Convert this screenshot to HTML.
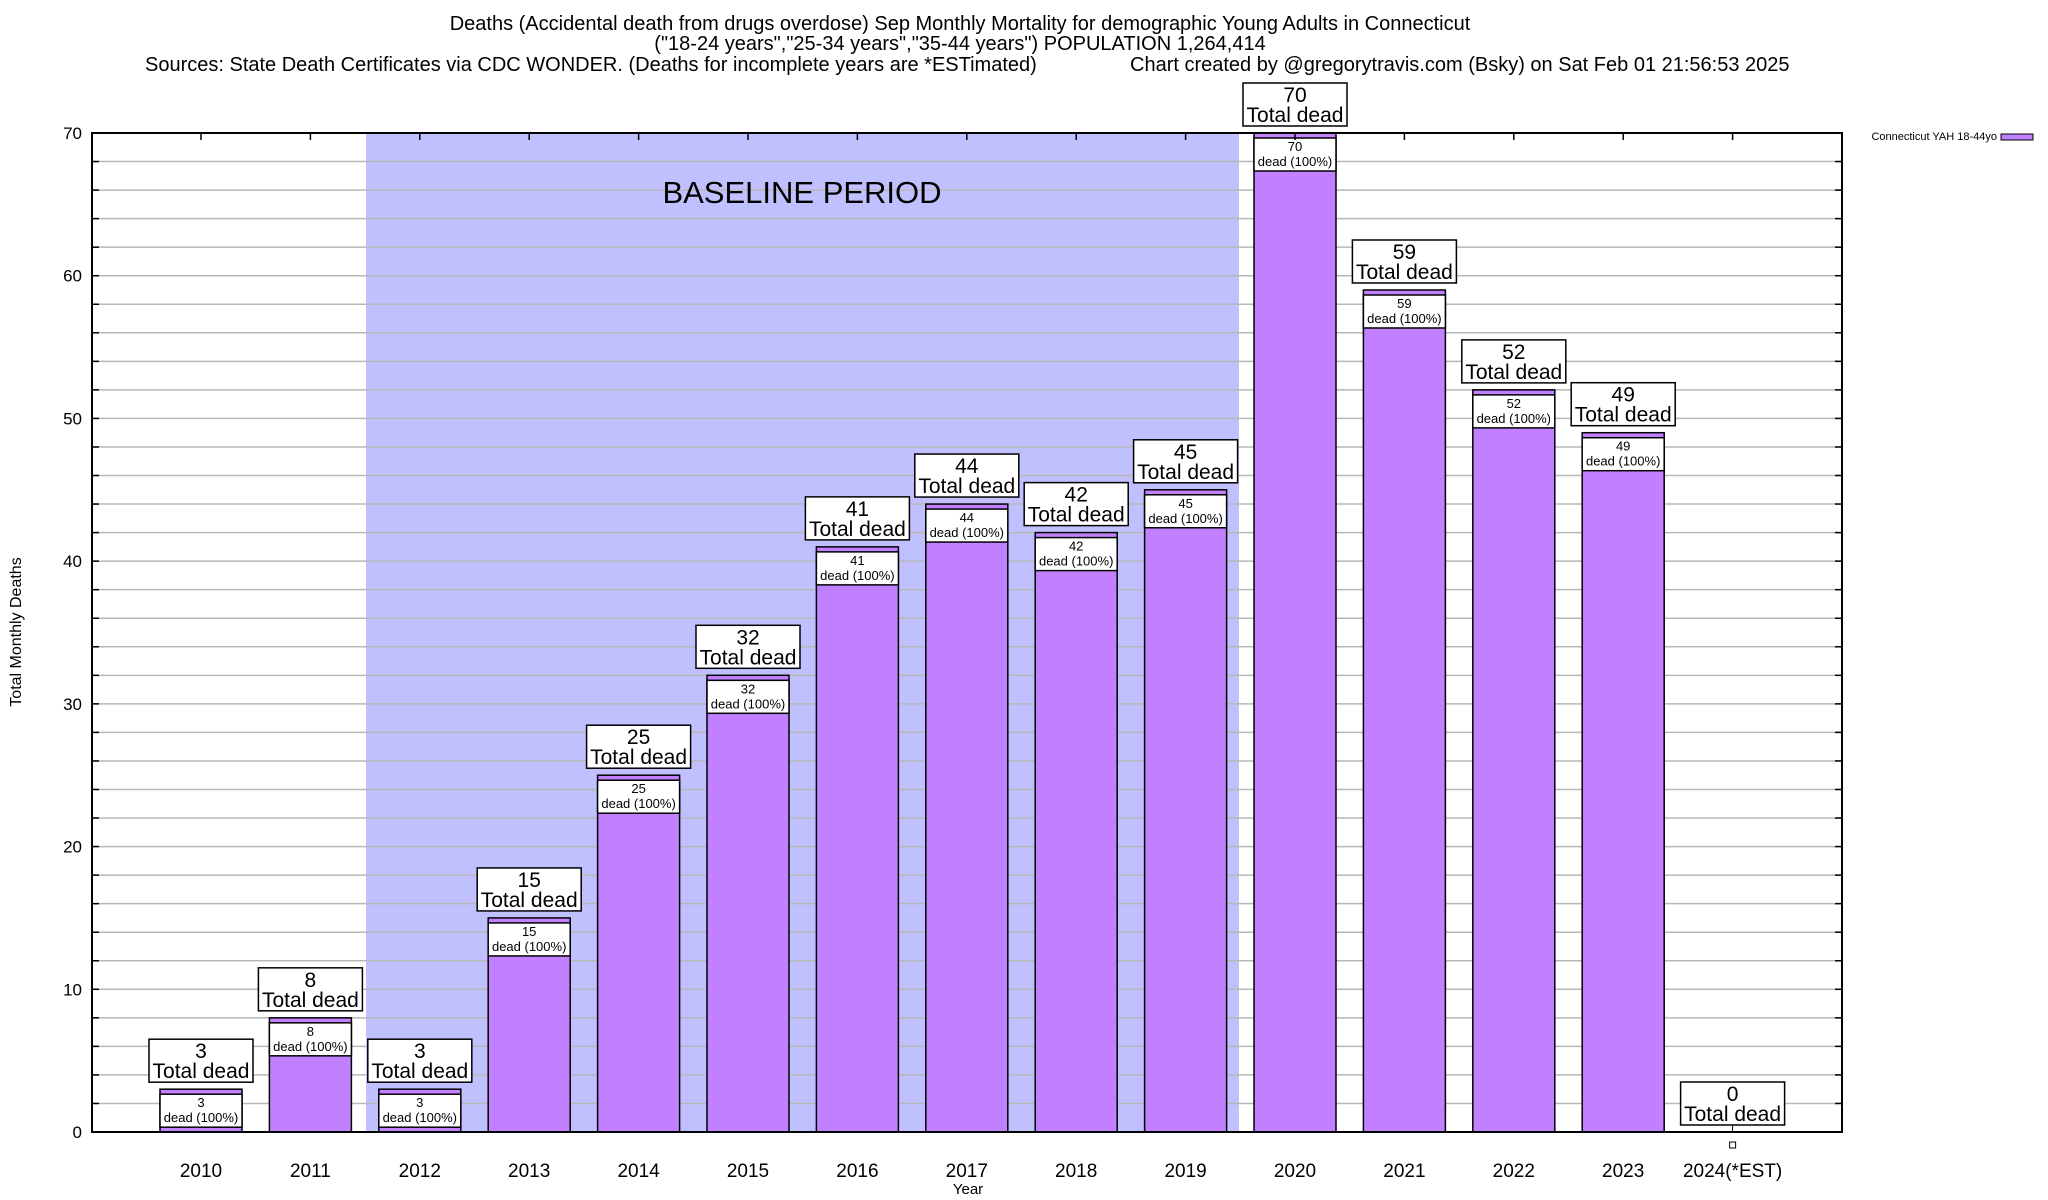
<!DOCTYPE html>
<html><head><meta charset="utf-8"><style>
html,body{margin:0;padding:0;background:#fff}
svg{display:block;font-family:"Liberation Sans",Arial,sans-serif}
</style></head><body>
<svg id="chart" width="2048" height="1200" xmlns="http://www.w3.org/2000/svg">
<g font-size="20" text-anchor="middle">
<text x="960" y="30">Deaths (Accidental death from drugs overdose) Sep Monthly Mortality for demographic Young Adults in Connecticut</text>
<text x="960" y="50">("18-24 years","25-34 years","35-44 years") POPULATION 1,264,414</text>
<text x="145" y="71" text-anchor="start">Sources: State Death Certificates via CDC WONDER. (Deaths for incomplete years are *ESTimated)</text>
<text x="1130" y="71" text-anchor="start">Chart created by @gregorytravis.com (Bsky) on Sat Feb 01 21:56:53 2025</text>
</g>
<rect x="366" y="133" width="873" height="999" fill="#c0c0ff"/>
<g id="grid"></g>
<text x="802" y="203" font-size="31" text-anchor="middle">BASELINE PERIOD</text>
<g id="bars"></g>
<rect x="92" y="133" width="1750" height="999" fill="none" stroke="#000" stroke-width="2"/>
<g id="axes"></g>
<text transform="translate(21,632) rotate(-90)" font-size="16" text-anchor="middle">Total Monthly Deaths</text>
<text x="968" y="1194" font-size="15" text-anchor="middle">Year</text>
<g>
<text x="1997" y="140" font-size="11" text-anchor="end">Connecticut YAH 18-44yo</text>
<rect x="2001" y="134" width="32" height="6" fill="#c080ff" stroke="#000"/>
</g>
</svg>
<script>
const categories=["2010","2011","2012","2013","2014","2015","2016","2017","2018","2019","2020","2021","2022","2023","2024(*EST)"];
const values=[3,8,3,15,25,32,41,44,42,45,70,59,52,49,0];
const yTicks=[0,10,20,30,40,50,60,70];
const NS="http://www.w3.org/2000/svg";
const L=92,R=1842,T=133,B=1132,yMax=70;
function y(v){return B-(v/yMax)*(B-T);}
function x(i){return 201+i*109.4;}
function el(tag,attrs,parent,txt){const e=document.createElementNS(NS,tag);for(const k in attrs)e.setAttribute(k,attrs[k]);if(txt!==undefined)e.textContent=txt;parent.appendChild(e);return e;}
const grid=document.getElementById('grid'),bars=document.getElementById('bars'),axes=document.getElementById('axes');
for(let v=0;v<=yMax;v+=2){
  const g=el('line',{x1:L,x2:R,y1:y(v),y2:y(v),stroke:'#b8b8b8','stroke-width':1.5},grid);
  
  
  const t1=el('line',{x1:L,x2:L+7,y1:y(v),y2:y(v),stroke:'#000','stroke-width':1.5},axes);
  
  
  const t2=el('line',{x1:R-7,x2:R,y1:y(v),y2:y(v),stroke:'#000','stroke-width':1.5},axes);
  
  
}
yTicks.forEach(v=>{
  const t=el('text',{x:82,y:y(v)+6,'font-size':17,'text-anchor':'end'},axes,String(v));
  
  
});
categories.forEach((c,i)=>{
  const cx=x(i),v=values[i],top=y(v),w=82;
  const tk=el('line',{x1:cx,x2:cx,y1:T,y2:T+7,stroke:'#000','stroke-width':1.5},axes);
  
  
  const tl=el('text',{x:cx,y:1177,'font-size':19,'text-anchor':'middle'},axes,c);
  
  
  if(v>0){
    const b=el('rect',{x:cx-w/2,y:top,width:w,height:B-top,fill:'#c080ff',stroke:'#000','stroke-width':1.5},bars);
    
    
    const ib=el('rect',{x:cx-w/2,y:top+5,width:w,height:33,fill:'#fff',stroke:'#000','stroke-width':1.5},bars);
    
    
    const i1=el('text',{x:cx,y:top+18,'font-size':13,'text-anchor':'middle'},bars,String(v));
    
    
    const i2=el('text',{x:cx,y:top+33,'font-size':13,'text-anchor':'middle'},bars,'dead (100%)');
    
    
  } else {
    const m=el('rect',{x:cx-3,y:B+10,width:6,height:6,fill:'#fff',stroke:'#000'},bars);
    
    
    const ml=el('line',{x1:cx,x2:cx,y1:B-7,y2:B,stroke:'#000'},bars);
    
    
  }
  const by=top-7-43;
  const lb=el('rect',{x:cx-52,y:by,width:104,height:43,fill:'#fff',stroke:'#000','stroke-width':1.5},bars);
  
  
  const l1=el('text',{x:cx,y:by+19,'font-size':21,'text-anchor':'middle'},bars,String(v));
  
  
  const l2=el('text',{x:cx,y:by+39,'font-size':21,'text-anchor':'middle'},bars,'Total dead');
  
  
});
</script>
</body></html>
